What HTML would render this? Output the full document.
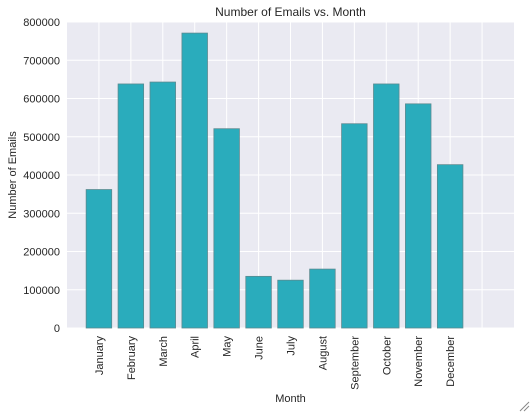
<!DOCTYPE html>
<html><head><meta charset="utf-8"><style>
body{margin:0;background:#fff;width:532px;height:414px;overflow:hidden;font-family:"Liberation Sans",sans-serif;}
svg text{font-family:"Liberation Sans",sans-serif;fill:#262626;}
</style></head><body>
<svg id="chart" width="532" height="414"></svg>
<script>
const months=["January","February","March","April","May","June","July","August","September","October","November","December"];
const emails=[362000,638000,643000,771000,521000,135000,125000,154000,534000,638000,586000,427000];
const yTicks=[0,100000,200000,300000,400000,500000,600000,700000,800000];
const yTickLabels=["0","100000","200000","300000","400000","500000","600000","700000","800000"];
const L=67,R=514,T=22,B=328;
const xMin=-1,xMax=13,yMax=800000;
const xs=v=>L+(v-xMin)/(xMax-xMin)*(R-L);
const ys=v=>B-v/yMax*(B-T);
const svg=document.getElementById('chart');
const NS='http://www.w3.org/2000/svg';
function mk(tag,attrs,parent){const e=document.createElementNS(NS,tag);for(const k in attrs)e.setAttribute(k,attrs[k]);(parent||svg).appendChild(e);return e;}
const bg=mk('rect',{x:L,y:T,width:R-L,height:B-T,fill:'#eaeaf2'});


yTicks.forEach((t,i)=>{
  const g=mk('line',{x1:L,x2:R,y1:ys(t),y2:ys(t),stroke:'#fff','stroke-width':1});
  
  
  const tx=mk('text',{x:L-7,y:ys(t)+4,'text-anchor':'end','font-size':11});
  tx.textContent=yTickLabels[i];
  
  
});
for(let i=0;i<=12;i++){
  const g=mk('line',{x1:xs(i),x2:xs(i),y1:T,y2:B,stroke:'#fff','stroke-width':1});
  
  
}
const bw=0.8;
emails.forEach((v,i)=>{
  const r=mk('rect',{x:xs(i-bw/2),y:ys(v),width:xs(i+bw/2)-xs(i-bw/2),height:B-ys(v),fill:'#2aacbc',stroke:'#5a8a90','stroke-width':0.8});
  
  
  const tx=mk('text',{x:0,y:0,'text-anchor':'end','font-size':11,transform:`translate(${xs(i)+4},${B+8}) rotate(-90)`});
  tx.textContent=months[i];
  
  
});
const title=mk('text',{x:(L+R)/2,y:16,'text-anchor':'middle','font-size':12});
title.textContent='Number of Emails vs. Month';


const xt=mk('text',{x:(L+R)/2,y:402,'text-anchor':'middle','font-size':11});
xt.textContent='Month';


const yt=mk('text',{x:0,y:0,'text-anchor':'middle','font-size':11,transform:`translate(16,${(T+B)/2}) rotate(-90)`});
yt.textContent='Number of Emails';


const grip=mk('path',{d:'M520 411 L529 402 M524 411 L529 406',stroke:'#888','stroke-width':1});


</script>
</body></html>
